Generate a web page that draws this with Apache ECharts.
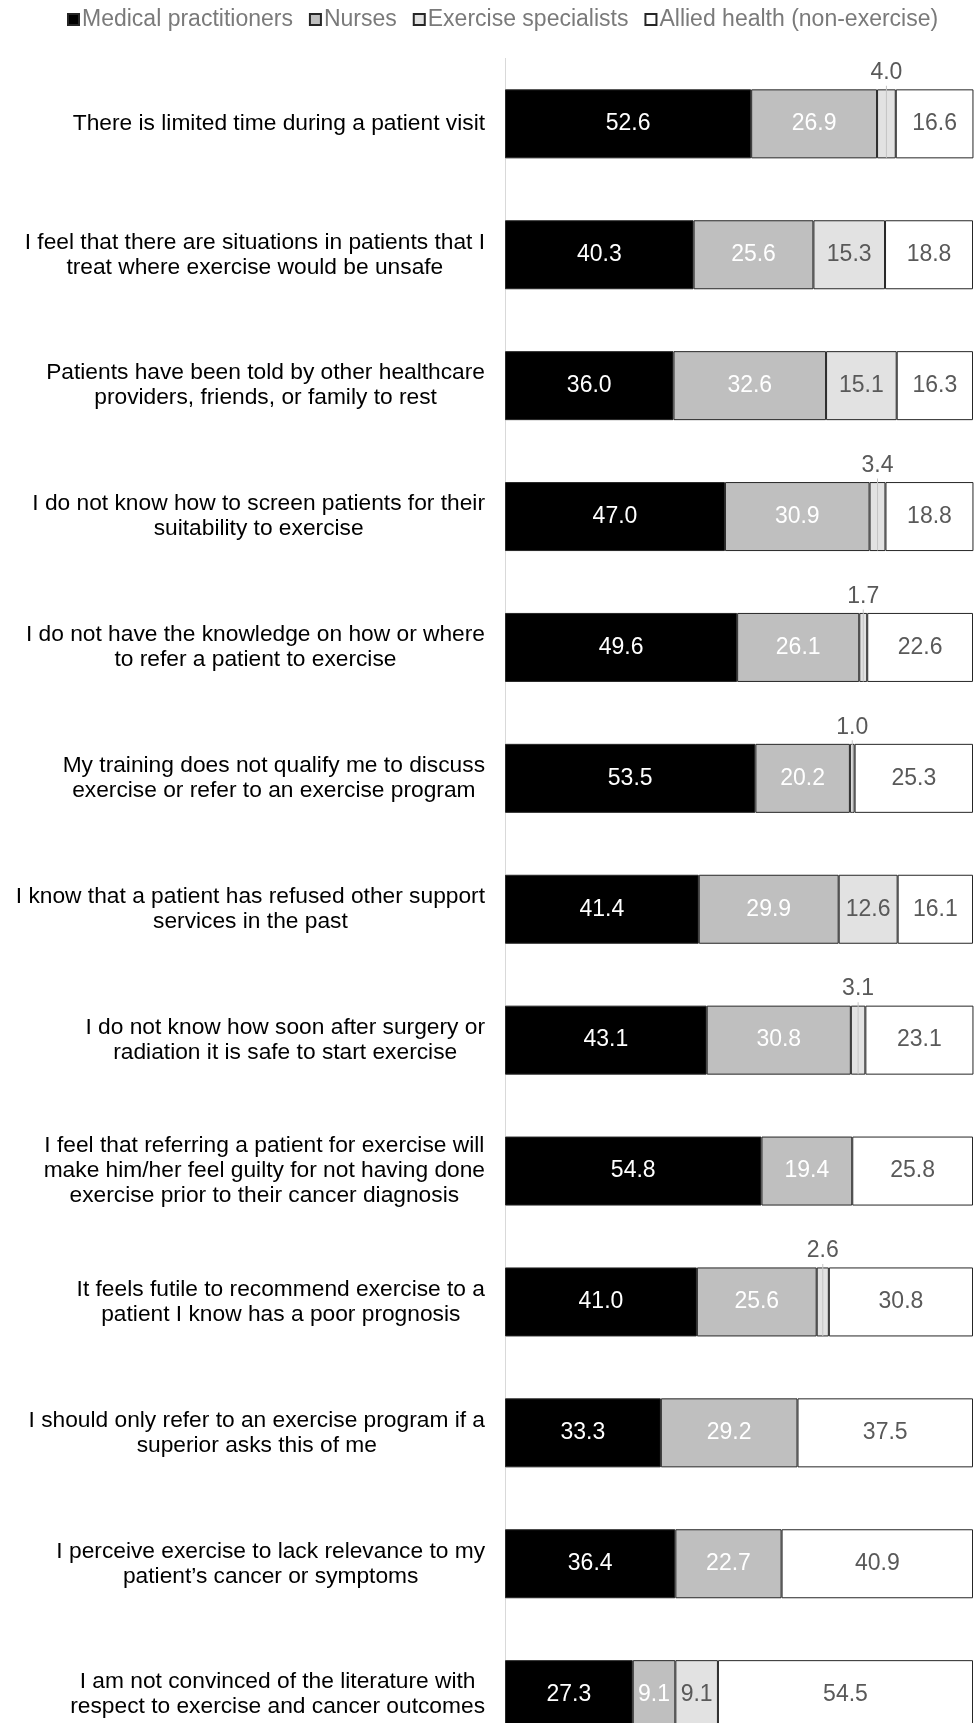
<!DOCTYPE html>
<html>
<head>
<meta charset="utf-8">
<script src="https://cdn.jsdelivr.net/npm/echarts@6/dist/echarts.min.js"></script>
<style>
html,body{margin:0;padding:0;background:#fff;}
#wrap{width:976px;height:1723px;overflow:hidden;position:relative;}
#chart{width:976px;height:1780px;}
</style>
</head>
<body>
<div id="wrap"><div id="chart"></div></div>
<script>
const categories = [
  "There is limited time during a patient visit",
  "I feel that there are situations in patients that I\ntreat where exercise would be unsafe",
  "Patients have been told by other healthcare\nproviders, friends, or family to rest",
  "I do not know how to screen patients for their\nsuitability to exercise",
  "I do not have the knowledge on how or where\nto refer a patient to exercise",
  "My training does not qualify me to discuss\nexercise or refer to an exercise program",
  "I know that a patient has refused other support\nservices in the past",
  "I do not know how soon after surgery or\nradiation it is safe to start exercise",
  "I feel that referring a patient for exercise will\nmake him/her feel guilty for not having done\nexercise prior to their cancer diagnosis",
  "It feels futile to recommend exercise to a\npatient I know has a poor prognosis",
  "I should only refer to an exercise program if a\nsuperior asks this of me",
  "I perceive exercise to lack relevance to my\npatient\u2019s cancer or symptoms",
  "I am not convinced of the literature with\nrespect to exercise and cancer outcomes"
];
const seriesNames = ["Medical practitioners", "Nurses", "Exercise specialists", "Allied health (non-exercise)"];
const medical  = [52.6, 40.3, 36.0, 47.0, 49.6, 53.5, 41.4, 43.1, 54.8, 41.0, 33.3, 36.4, 27.3];
const nurses   = [26.9, 25.6, 32.6, 30.9, 26.1, 20.2, 29.9, 30.8, 19.4, 25.6, 29.2, 22.7, 9.1];
const exercise = [4.0, 15.3, 15.1, 3.4, 1.7, 1.0, 12.6, 3.1, null, 2.6, null, null, 9.1];
const allied   = [16.6, 18.8, 16.3, 18.8, 22.6, 25.3, 16.1, 23.1, 25.8, 30.8, 37.5, 40.9, 54.5];

const FONT = "'Liberation Sans', Arial, sans-serif";
const FS = 23;
const CAT_FS = 22.75;
const fills = ['#000000', '#bfbfbf', '#e2e2e2', '#ffffff'];
const labelColors = ['#ffffff', '#ffffff', '#595959', '#595959'];
const values = [medical, nurses, exercise, allied];
const SMALL = 5;

const chart = echarts.init(document.getElementById('chart'), null, {renderer: 'canvas'});

const series = seriesNames.map((name, i) => {
  const s = {
    name: name,
    type: 'bar',
    stack: 'total',
    barWidth: 69,
    data: values[i],
    itemStyle: {color: fills[i], borderColor: '#262626', borderWidth: 1},
    label: {
      show: true,
      position: 'inside',
      color: labelColors[i],
      fontFamily: FONT,
      fontSize: FS,
      formatter: p => (p.value == null ? '' : Number(p.value).toFixed(1))
    },
    emphasis: {disabled: true},
    animation: false
  };
  if (i === 2) {
    s.label.formatter = function (p) {
      if (p.value == null) return '';
      const t = Number(p.value).toFixed(1);
      if (p.value < SMALL) return '{t|' + t + '}\n{l| }';
      return t;
    };
    s.label.rich = {
      t: {color: '#595959', fontFamily: FONT, fontSize: FS, lineHeight: 26, align: 'center'},
      l: {width: 1, height: 72, backgroundColor: '#c4c4c4', align: 'center', fontSize: 1, lineHeight: 72}
    };
    s.labelLayout = function (p) {
      const v = exercise[p.dataIndex];
      if (v != null && v < SMALL) return {dy: -15};
      return {};
    };
  }
  return s;
});

const option = {
  backgroundColor: '#ffffff',
  animation: false,
  legend: {
    data: seriesNames,
    left: 67,
    top: 8,
    padding: 0,
    itemWidth: 11,
    itemHeight: 11,
    itemGap: 16,
    icon: 'rect',
    textStyle: {color: '#7a7a7a', fontFamily: FONT, fontSize: FS, padding: [0, 0, 0, -2]}
  },
  grid: {left: 505, width: 468, top: 58.4, height: 1701.7, containLabel: false},
  xAxis: {
    type: 'value',
    min: 0,
    max: 100,
    show: false
  },
  yAxis: {
    type: 'category',
    data: categories,
    inverse: true,
    axisLine: {show: true, lineStyle: {color: '#d9d9d9', width: 1}},
    axisTick: {show: false},
    splitLine: {show: false},
    axisLabel: {
      margin: 20,
      align: 'right',
      color: '#000',
      fontFamily: FONT,
      fontSize: CAT_FS,
      lineHeight: 25,
      formatter: v => v.split('\n').map(l => '{c|' + l + '}').join('\n'),
      rich: {c: {align: 'center', color: '#000', fontFamily: FONT, fontSize: CAT_FS, lineHeight: 25}}
    }
  },
  series: series
};
chart.setOption(option);
</script>
</body>
</html>
